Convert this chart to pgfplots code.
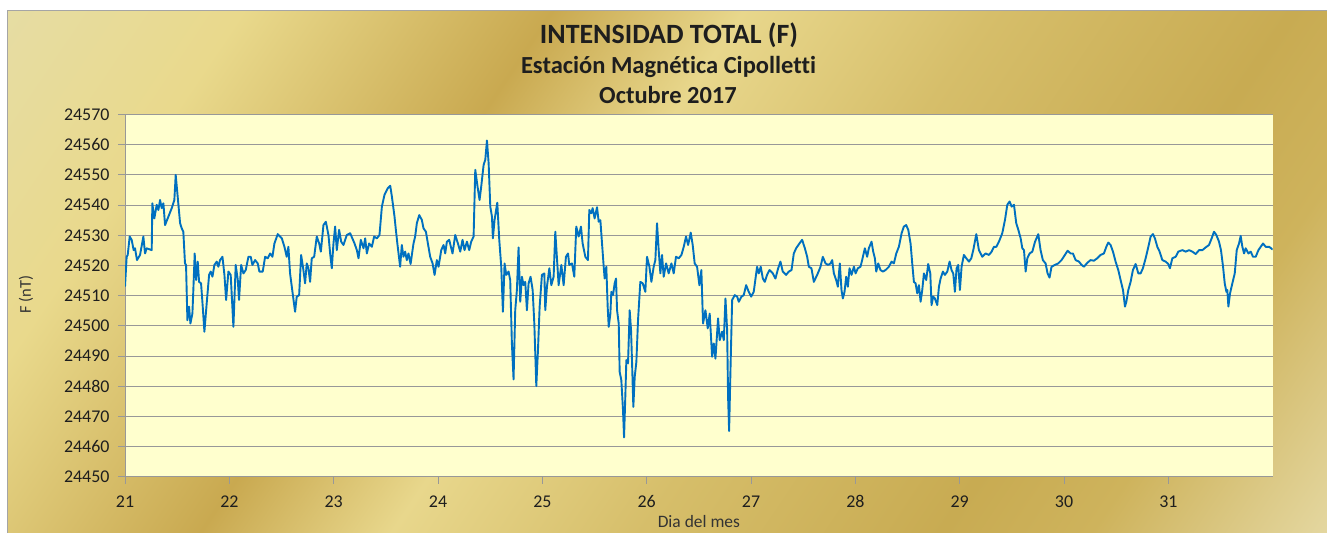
\documentclass[border=0pt]{standalone}
\usepackage{pgfplots}
\pgfplotsset{compat=1.18}
\usepackage{pgfplotstable}
\usepackage{fontspec}
\setmainfont{Carlito}[Ligatures=NoCommon]
\definecolor{g0}{RGB}{230,221,165}
\definecolor{g1}{RGB}{233,217,140}
\definecolor{g2}{RGB}{201,169,80}
\definecolor{g3}{RGB}{232,215,140}
\definecolor{g4}{RGB}{214,190,106}
\definecolor{g5}{RGB}{200,171,82}
\definecolor{g6}{RGB}{206,179,92}
\definecolor{g7}{RGB}{228,215,160}
\definecolor{plotbg}{RGB}{255,255,206}
\definecolor{gridgray}{RGB}{152,152,152}
\definecolor{framegray}{RGB}{165,165,165}
\definecolor{labelcol}{RGB}{30,30,30}
\definecolor{seriesblue}{RGB}{0,112,192}
\pgfdeclarehorizontalshading{bgshade}{1184bp}{color(0bp)=(g0); color(207bp)=(g1); color(464bp)=(g2); color(622bp)=(g3); color(829bp)=(g4); color(1078bp)=(g5); color(1202bp)=(g6); color(1398bp)=(g7)}

\pgfplotstableread{
d f
21.000 24513.0
21.016 24522.9
21.026 24523.5
21.045 24529.6
21.064 24528.5
21.083 24525.1
21.096 24525.7
21.115 24521.8
21.144 24523.5
21.176 24529.6
21.192 24524.0
21.208 24525.7
21.256 24525.1
21.262 24540.6
21.281 24535.6
21.304 24540.1
21.320 24538.4
21.336 24541.7
21.352 24539.0
21.368 24540.6
21.384 24533.4
21.416 24536.2
21.448 24539.0
21.473 24541.7
21.486 24550.0
21.505 24542.8
21.528 24534.0
21.544 24532.3
21.559 24531.2
21.575 24520.7
21.585 24520.2
21.598 24501.9
21.614 24506.4
21.627 24500.8
21.646 24504.1
21.655 24511.9
21.668 24524.0
21.681 24515.2
21.697 24521.3
21.710 24514.6
21.729 24514.1
21.745 24506.4
21.761 24498.1
21.783 24507.5
21.806 24516.9
21.822 24518.0
21.838 24516.3
21.857 24520.2
21.879 24521.3
21.895 24519.6
21.911 24521.8
21.934 24522.9
21.953 24516.9
21.969 24508.6
21.991 24518.0
22.013 24516.9
22.039 24499.7
22.061 24520.2
22.081 24515.2
22.093 24508.6
22.113 24520.2
22.135 24517.4
22.157 24518.5
22.183 24522.9
22.205 24522.9
22.221 24520.2
22.247 24521.8
22.272 24520.7
22.288 24518.0
22.320 24518.0
22.343 24522.9
22.368 24522.4
22.391 24524.0
22.413 24522.9
22.432 24527.3
22.464 24530.4
22.503 24529.0
22.528 24526.2
22.550 24522.9
22.566 24526.2
22.582 24517.4
22.605 24511.3
22.630 24504.7
22.646 24509.7
22.669 24510.2
22.688 24523.5
22.710 24518.5
22.726 24514.1
22.742 24520.7
22.758 24519.1
22.774 24514.6
22.790 24522.4
22.813 24522.9
22.838 24529.6
22.861 24527.3
22.877 24524.6
22.902 24533.4
22.925 24534.5
22.950 24530.1
22.966 24524.0
22.982 24519.1
22.998 24527.3
23.014 24532.9
23.030 24525.1
23.052 24531.8
23.072 24527.9
23.094 24526.8
23.126 24530.1
23.158 24530.7
23.200 24527.3
23.222 24525.1
23.238 24522.4
23.260 24528.5
23.286 24525.7
23.302 24529.0
23.318 24524.0
23.340 24527.3
23.366 24526.2
23.388 24529.6
23.414 24529.0
23.439 24530.1
23.462 24539.5
23.487 24543.4
23.519 24545.6
23.542 24546.4
23.558 24542.8
23.583 24536.2
23.596 24531.8
23.612 24526.8
23.637 24519.6
23.653 24526.8
23.669 24522.9
23.685 24524.6
23.701 24521.8
23.717 24524.0
23.737 24520.5
23.765 24527.3
23.781 24529.6
23.797 24534.0
23.820 24536.7
23.845 24535.1
23.861 24532.3
23.884 24531.2
23.903 24527.3
23.925 24522.9
23.948 24520.7
23.967 24516.9
23.989 24521.8
24.005 24519.6
24.031 24525.1
24.053 24526.8
24.069 24524.0
24.085 24527.9
24.107 24528.5
24.127 24525.7
24.139 24524.0
24.165 24530.1
24.191 24527.3
24.213 24524.6
24.235 24528.5
24.254 24525.1
24.277 24527.9
24.299 24525.1
24.318 24527.9
24.341 24529.6
24.357 24551.7
24.379 24546.1
24.398 24541.7
24.414 24546.1
24.437 24553.3
24.453 24555.0
24.469 24561.4
24.485 24553.9
24.501 24539.5
24.517 24536.2
24.526 24529.0
24.542 24535.1
24.568 24540.8
24.587 24528.5
24.606 24519.6
24.622 24504.7
24.638 24520.7
24.654 24516.9
24.676 24518.0
24.692 24515.2
24.708 24494.2
24.724 24482.3
24.740 24505.2
24.756 24511.9
24.772 24526.0
24.788 24508.0
24.804 24516.3
24.820 24513.5
24.836 24514.6
24.852 24505.2
24.868 24514.1
24.887 24516.3
24.907 24511.9
24.923 24500.8
24.942 24480.1
24.958 24492.0
24.974 24506.4
24.996 24516.9
25.019 24517.4
25.028 24505.2
25.044 24513.0
25.067 24519.1
25.086 24513.5
25.108 24516.3
25.124 24531.2
25.140 24522.4
25.156 24513.5
25.182 24520.2
25.204 24513.5
25.226 24522.9
25.246 24524.0
25.258 24520.2
25.284 24520.7
25.306 24516.3
25.325 24532.9
25.348 24529.6
25.370 24532.9
25.386 24527.3
25.412 24522.9
25.437 24521.8
25.450 24538.4
25.469 24537.3
25.482 24539.0
25.501 24535.6
25.524 24539.3
25.540 24534.5
25.556 24535.0
25.572 24527.3
25.588 24519.6
25.597 24515.7
25.613 24519.6
25.626 24506.4
25.636 24499.7
25.652 24504.1
25.661 24511.3
25.677 24510.2
25.693 24514.1
25.706 24515.7
25.716 24505.2
25.732 24500.8
25.741 24484.8
25.757 24482.0
25.773 24472.1
25.783 24463.1
25.796 24477.6
25.805 24488.7
25.821 24487.6
25.837 24505.2
25.850 24498.6
25.859 24488.7
25.872 24473.2
25.885 24483.1
25.901 24488.1
25.917 24501.9
25.939 24514.6
25.962 24514.1
25.987 24511.3
26.003 24522.9
26.026 24519.6
26.045 24514.6
26.067 24519.6
26.083 24521.8
26.099 24534.0
26.115 24525.1
26.131 24517.4
26.147 24523.5
26.163 24516.3
26.186 24520.7
26.211 24517.4
26.237 24520.7
26.259 24517.4
26.281 24522.9
26.307 24522.4
26.333 24523.5
26.355 24526.2
26.377 24529.6
26.397 24526.8
26.422 24530.9
26.441 24526.8
26.460 24520.7
26.483 24519.6
26.505 24513.5
26.524 24518.5
26.540 24500.8
26.563 24505.2
26.585 24499.2
26.604 24504.1
26.627 24489.8
26.643 24494.2
26.659 24489.2
26.684 24502.5
26.700 24495.3
26.723 24498.1
26.739 24495.3
26.755 24509.1
26.771 24498.6
26.780 24476.5
26.790 24465.2
26.803 24485.4
26.819 24508.6
26.844 24510.2
26.867 24509.7
26.883 24508.0
26.908 24509.7
26.930 24510.2
26.953 24513.5
26.978 24511.3
27.001 24509.7
27.026 24511.3
27.058 24519.6
27.074 24517.4
27.093 24519.6
27.113 24515.7
27.132 24514.6
27.154 24516.9
27.177 24518.5
27.209 24517.4
27.234 24515.7
27.260 24519.1
27.282 24521.3
27.304 24518.0
27.336 24516.9
27.362 24518.0
27.388 24518.5
27.410 24524.0
27.432 24525.7
27.464 24527.3
27.490 24528.5
27.516 24525.7
27.538 24522.9
27.554 24519.6
27.579 24519.1
27.602 24514.6
27.634 24516.9
27.666 24519.6
27.688 24522.9
27.714 24520.7
27.739 24520.2
27.762 24520.7
27.778 24521.8
27.794 24517.4
27.816 24515.2
27.832 24513.0
27.851 24520.7
27.867 24511.9
27.880 24509.1
27.896 24511.3
27.912 24516.3
27.928 24513.0
27.944 24519.1
27.963 24516.9
27.986 24519.6
28.002 24517.4
28.024 24519.1
28.049 24519.6
28.065 24521.8
28.091 24525.7
28.113 24522.9
28.129 24525.7
28.155 24527.9
28.171 24524.6
28.187 24522.4
28.200 24518.0
28.219 24520.7
28.241 24518.5
28.264 24518.0
28.289 24518.5
28.321 24519.6
28.347 24521.3
28.369 24520.7
28.392 24524.0
28.417 24526.2
28.443 24530.7
28.465 24532.9
28.487 24533.4
28.507 24531.8
28.529 24527.3
28.545 24520.7
28.561 24514.6
28.577 24514.1
28.593 24510.8
28.609 24513.5
28.625 24508.0
28.641 24511.9
28.657 24517.4
28.679 24515.2
28.698 24520.5
28.718 24517.4
28.730 24506.9
28.746 24509.7
28.762 24509.1
28.785 24506.9
28.801 24513.0
28.817 24515.7
28.839 24518.0
28.858 24516.9
28.881 24518.0
28.903 24521.3
28.922 24518.5
28.938 24517.4
28.954 24511.3
28.970 24519.1
28.986 24520.2
29.002 24511.9
29.018 24519.6
29.040 24523.5
29.063 24522.4
29.089 24521.3
29.111 24522.4
29.130 24525.1
29.159 24530.4
29.184 24525.1
29.216 24522.9
29.248 24524.0
29.280 24523.5
29.306 24524.6
29.328 24526.2
29.351 24526.2
29.376 24527.9
29.408 24530.7
29.434 24535.1
29.456 24540.1
29.478 24541.2
29.498 24539.5
29.520 24540.1
29.542 24534.0
29.562 24531.8
29.584 24529.0
29.600 24525.7
29.616 24525.1
29.632 24518.0
29.648 24522.4
29.670 24524.0
29.696 24524.6
29.722 24527.9
29.753 24530.4
29.775 24525.1
29.797 24521.8
29.823 24520.7
29.842 24517.4
29.861 24516.0
29.880 24519.6
29.912 24520.2
29.944 24520.7
29.976 24521.8
30.008 24523.5
30.034 24524.9
30.063 24524.0
30.085 24524.0
30.111 24521.8
30.143 24521.3
30.168 24520.2
30.191 24519.6
30.223 24520.9
30.254 24521.8
30.286 24521.6
30.318 24522.4
30.350 24523.5
30.382 24524.0
30.405 24526.2
30.424 24527.6
30.446 24526.8
30.469 24524.6
30.494 24521.3
30.520 24518.5
30.542 24515.2
30.565 24511.9
30.584 24506.4
30.597 24508.0
30.616 24511.9
30.638 24514.6
30.660 24518.5
30.686 24520.5
30.712 24517.4
30.734 24517.4
30.756 24519.1
30.782 24522.4
30.808 24526.2
30.830 24529.6
30.852 24530.4
30.871 24529.0
30.894 24526.2
30.916 24524.6
30.942 24521.8
30.974 24521.3
30.999 24520.5
31.015 24519.1
31.038 24522.4
31.070 24522.9
31.095 24524.6
31.134 24525.1
31.166 24524.6
31.198 24525.1
31.230 24524.6
31.262 24523.8
31.294 24525.1
31.326 24525.1
31.357 24526.0
31.389 24526.8
31.415 24529.0
31.437 24531.2
31.460 24530.1
31.485 24527.9
31.504 24525.1
31.524 24519.6
31.540 24514.1
31.556 24511.3
31.565 24511.9
31.575 24506.4
31.591 24510.8
31.613 24514.1
31.636 24517.4
31.655 24525.1
31.677 24527.3
31.693 24529.8
31.709 24526.2
31.725 24524.0
31.741 24525.7
31.767 24524.0
31.789 24524.6
31.811 24522.9
31.837 24522.9
31.863 24525.1
31.885 24526.2
31.907 24527.3
31.933 24526.2
31.965 24526.2
32.000 24525.3
}\fdata

\begin{document}
\begin{tikzpicture}[x=1bp,y=1bp]
\useasboundingbox (0,0) rectangle (1327,533);
\fill[white] (0,0) rectangle (1327,533);
\begin{scope}
\clip (8,0) rectangle (1327,522);
\node[inner sep=0pt, outer sep=0pt, anchor=south west, rotate=-34] at (-247,166.6) {\pgfuseshading{bgshade}};
\end{scope}
\draw[color=framegray, line width=1.5bp] (7.5,0) -- (7.5,522.5) -- (1327,522.5);

\node[anchor=base, text=labelcol, font=\bfseries\fontsize{28}{32}\selectfont] at (669,489.5) {INTENSIDAD TOTAL (F)};
\node[anchor=base, text=labelcol, font=\bfseries\fontsize{24.6}{28}\selectfont] at (668.5,459.5) {Estación Magnética Cipolletti};
\node[anchor=base, text=labelcol, font=\bfseries\fontsize{24.6}{28}\selectfont] at (668,429.5) {Octubre 2017};

\begin{axis}[
  at={(125bp,56bp)}, anchor=south west,
  scale only axis, width=1147.7bp, height=362.5bp,
  xmin=21, xmax=32, ymin=24450, ymax=24570,
  xtick={21,22,...,31},
  ytick={24450,24460,...,24570},
  axis x line*=bottom, axis y line*=left,
  axis line style={draw=gridgray, line width=1bp, -},
  tick align=outside, major tick length=7bp,
  tick style={draw=gridgray, line width=1bp},
  ymajorgrids, grid style={draw=gridgray, line width=1bp},
  axis background/.style={fill=plotbg},
  scaled y ticks=false, scaled x ticks=false,
  /pgf/number format/assume math mode=true,
  ticklabel style={font=\fontsize{18}{20}\selectfont, text=labelcol},
  xticklabel style={yshift=-8bp},
  yticklabel style={xshift=-5bp, /pgf/number format/1000 sep={}, /pgf/number format/fixed, /pgf/number format/precision=0},
  xlabel={Dia del mes},
  ylabel={F (nT)},
  xlabel style={at={(axis description cs:0.5,0)}, anchor=base, yshift=-51bp, font=\fontsize{17.5}{20}\selectfont, text=black!80},
  ylabel style={at={(axis description cs:-0.0863,0.503)}, anchor=center, font=\fontsize{16.5}{19}\selectfont, text=black!80},
]
\addplot[seriesblue, line width=1.9bp, line join=round] table[x=d, y=f] {\fdata};
\end{axis}
\end{tikzpicture}
\end{document}
